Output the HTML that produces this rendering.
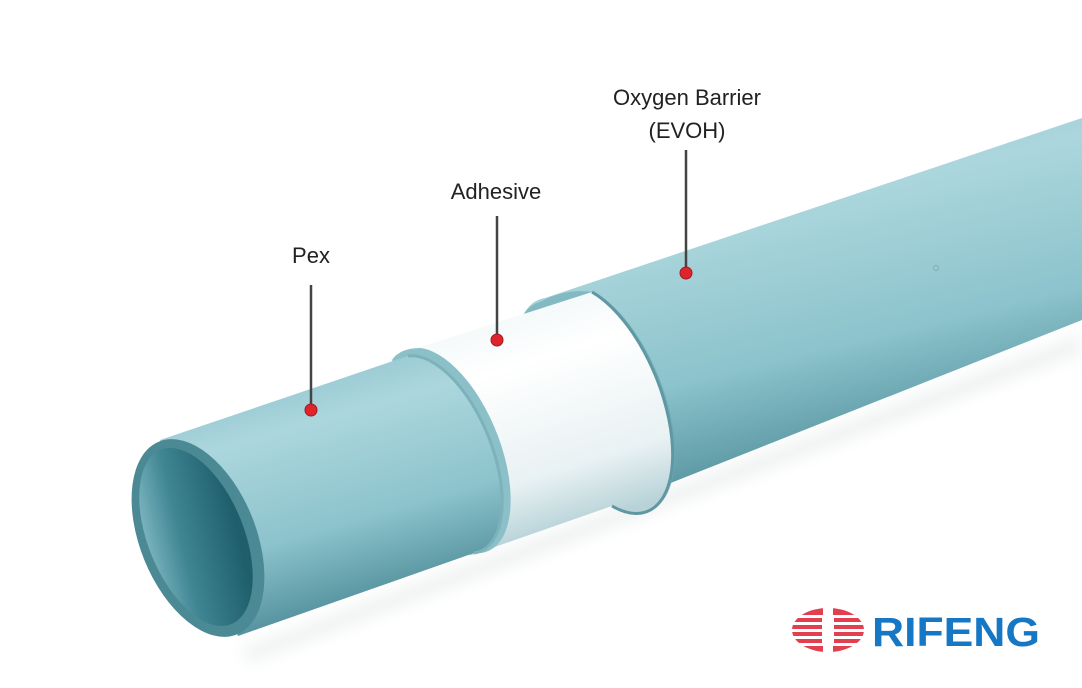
<!DOCTYPE html>
<html><head><meta charset="utf-8"><style>
html,body{margin:0;padding:0;background:#fff;}
svg{display:block;}
text{font-family:"Liberation Sans",sans-serif;}
</style></head><body>
<svg width="1082" height="688" viewBox="0 0 1082 688" xmlns="http://www.w3.org/2000/svg">
<defs>
<linearGradient id="teal" x1="0" y1="0" x2="0.35" y2="1">
<stop offset="0" stop-color="#7fb9c4"/>
<stop offset="0.35" stop-color="#acd6dd"/>
<stop offset="0.7" stop-color="#8cc3cc"/>
<stop offset="1" stop-color="#4f8d99"/>
</linearGradient>
<linearGradient id="wht" x1="0" y1="0" x2="0.35" y2="1">
<stop offset="0" stop-color="#e6f2f4"/>
<stop offset="0.4" stop-color="#ffffff"/>
<stop offset="0.8" stop-color="#e8f1f3"/>
<stop offset="1" stop-color="#b8d3d8"/>
</linearGradient>
<linearGradient id="inner" x1="0" y1="0" x2="1" y2="0.3">
<stop offset="0" stop-color="#8cc3cc"/>
<stop offset="0.45" stop-color="#3f8592"/>
<stop offset="1" stop-color="#1f5f6c"/>
</linearGradient>
<filter id="sh" x="-20%" y="-20%" width="140%" height="160%"><feGaussianBlur stdDeviation="8"/></filter>
</defs>
<path d="M240,650 L1082,335 L1082,352 L250,662 Z" fill="#dde2e3" filter="url(#sh)" opacity="0.5"/>
<!-- barrier -->
<path d="M545,298 L1082,118 L1082,320 L615,505 A52 108 -22 0 1 545,298 Z" fill="url(#teal)"/>
<path d="M540,302 Q565,288 595,292 A52 108 -22 0 1 615,505 A52 108 -22 0 1 540,302 Z" fill="#6ea8b3" opacity="0.6"/>
<!-- adhesive -->
<path d="M405,352 L592,292 A52 108 -22 0 1 612,506 L472,555 A50 103 -22 0 1 405,352 Z" fill="url(#wht)"/>
<path d="M592,292 A52 108 -22 0 1 612,506" fill="none" stroke="#5f97a2" stroke-width="3"/>
<!-- pex lip -->
<path d="M392,360 Q400,348 420,348 A50 103 -22 0 1 474,553 Z" fill="#8cc0c9"/>
<!-- pex -->
<path d="M160,440 L408,356 A50 103 -22 0 1 474,553 L238,636 Z" fill="url(#teal)"/>
<path d="M408,356 A50 103 -22 0 1 474,553" fill="none" stroke="#7db2bb" stroke-width="3"/>
<!-- end -->
<ellipse cx="198" cy="538" rx="58" ry="104" transform="rotate(-22 198 538)" fill="#4b8995"/>
<ellipse cx="196" cy="537" rx="48" ry="94" transform="rotate(-22 196 537)" fill="url(#inner)"/>
<!-- labels -->
<g fill="#222" font-size="22">
<text x="311" y="263" text-anchor="middle">Pex</text>
<text x="496" y="199" text-anchor="middle">Adhesive</text>
<text x="687" y="105" text-anchor="middle">Oxygen Barrier</text>
<text x="687" y="138" text-anchor="middle">(EVOH)</text>
</g>
<g stroke="#444" stroke-width="2.5">
<line x1="311" y1="285" x2="311" y2="410"/>
<line x1="497" y1="216" x2="497" y2="340"/>
<line x1="686" y1="150" x2="686" y2="273"/>
</g>
<g fill="#e0242c" stroke="#a01a20" stroke-width="1">
<circle cx="311" cy="410" r="6"/>
<circle cx="497" cy="340" r="6"/>
<circle cx="686" cy="273" r="6"/>
</g>
<circle cx="936" cy="268" r="2.5" fill="none" stroke="#8aa" stroke-width="1"/>
<!-- logo -->
<ellipse cx="828" cy="630" rx="36" ry="22" fill="#e3404f"/>
<g fill="#fff">
<rect x="790" y="615" width="76" height="3"/>
<rect x="790" y="622" width="76" height="3"/>
<rect x="790" y="629" width="76" height="3"/>
<rect x="790" y="636" width="76" height="3"/>
<rect x="790" y="643" width="76" height="3"/>
<rect x="823" y="605" width="10" height="50"/>
</g>
<rect x="822" y="617" width="12" height="27" fill="#fff"/>
<text x="872" y="646" font-size="41" font-weight="bold" fill="#1677c4" textLength="168" lengthAdjust="spacingAndGlyphs">RIFENG</text>
</svg>
</body></html>
